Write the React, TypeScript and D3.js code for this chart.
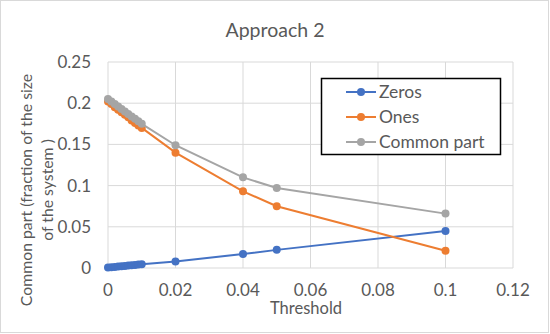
import React from "react";
import * as d3 from "d3";

const thresholds = [0, 0.001, 0.002, 0.003, 0.004, 0.005, 0.006, 0.007, 0.008, 0.009, 0.01, 0.02, 0.04, 0.05, 0.1];
const zeros = [0.0005, 0.0009, 0.0013, 0.0017, 0.0021, 0.0025, 0.0029, 0.0033, 0.0037, 0.0041, 0.0045, 0.008, 0.017, 0.022, 0.045];
const ones = [0.202, 0.199, 0.195, 0.192, 0.189, 0.186, 0.183, 0.179, 0.176, 0.173, 0.17, 0.14, 0.093, 0.075, 0.021];
const common = [0.205, 0.202, 0.199, 0.196, 0.193, 0.19, 0.187, 0.184, 0.181, 0.178, 0.175, 0.149, 0.11, 0.097, 0.066];
const seriesNames = ["Zeros", "Ones", "Common part"];
const xTicks = [0, 0.02, 0.04, 0.06, 0.08, 0.1, 0.12];
const yTicks = [0, 0.05, 0.1, 0.15, 0.2, 0.25];
const colors = ["#4472C4", "#ED7D31", "#A5A5A5"];

const W = 550, H = 334;
const FONT = "Lato, 'Open Sans', sans-serif";
const TXT = "#595959";

export default function App() {
  const x = d3.scaleLinear().domain([0, 0.12]).range([108, 513]);
  const y = d3.scaleLinear().domain([0, 0.25]).range([268, 62]);
  const series = [zeros, ones, common];
  const line = d3.line<[number, number]>().x(d => x(d[0])).y(d => y(d[1]));
  const fmt = (v: number) => String(+v.toFixed(3));
  return (
    <svg width={W} height={H} style={{ position: "absolute", left: 0, top: 0, fontFamily: FONT }}>
      <rect x={0.5} y={0.5} width={W - 2} height={H - 2} fill="#fff" stroke="#d9d9d9" />
      <text x={275} y={37} textAnchor="middle" fontSize={19.5} fill={TXT}>Approach 2</text>
      {yTicks.map(t => (
        <line key={"gy" + t} x1={x(0)} x2={x(0.12)} y1={y(t)} y2={y(t)} stroke="#d9d9d9" strokeWidth={1} />
      ))}
      {xTicks.map(t => (
        <line key={"gx" + t} x1={x(t)} x2={x(t)} y1={y(0)} y2={y(0.25)} stroke="#d9d9d9" strokeWidth={1} />
      ))}
      {yTicks.map(t => (
        <text key={"ty" + t} x={91} y={y(t)} dy="0.35em" textAnchor="end" fontSize={17} fill={TXT}>{fmt(t)}</text>
      ))}
      {xTicks.map(t => (
        <text key={"tx" + t} x={x(t)} y={y(0) + 28} textAnchor="middle" fontSize={17} fill={TXT}>{fmt(t)}</text>
      ))}
      <text x={306} y={314} textAnchor="middle" fontSize={16.5} fill={TXT}>Threshold</text>
      <g transform="translate(26,190) rotate(-90)">
        <text x={0} y={0} dy="0.35em" textAnchor="middle" fontSize={15.8} fill={TXT}>Common part (fraction of the size</text>
        <text x={0} y={21} dy="0.35em" textAnchor="middle" fontSize={15.8} fill={TXT}>of the system )</text>
      </g>
      {series.map((s, i) => {
        const pts = thresholds.map((t, j) => [t, s[j]] as [number, number]);
        return (
          <g key={"s" + i}>
            <path d={line(pts) || ""} fill="none" stroke={colors[i]} strokeWidth={2} />
            {pts.map((p, j) => (
              <circle key={j} cx={x(p[0])} cy={y(p[1])} r={4} fill={colors[i]} />
            ))}
          </g>
        );
      })}
      <rect x={321.5} y={78.5} width={179} height={76} fill="#fff" stroke="#000" strokeWidth={1.5} />
      {seriesNames.map((n, i) => (
        <g key={"l" + i} transform={`translate(0,${92 + i * 25})`}>
          <line x1={346} x2={376} y1={0} y2={0} stroke={colors[i]} strokeWidth={2} />
          <circle cx={361} cy={0} r={4} fill={colors[i]} />
          <text x={379} y={0} dy="0.35em" fontSize={17.5} fill={TXT}>{n}</text>
        </g>
      ))}
    </svg>
  );
}
